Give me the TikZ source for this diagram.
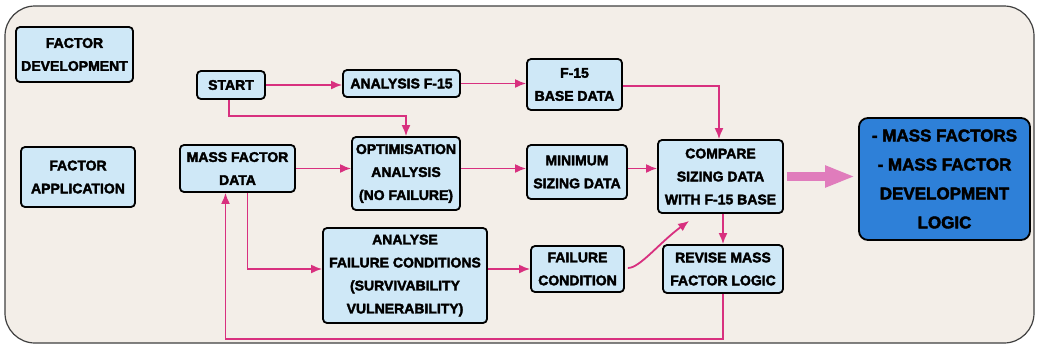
\documentclass[tikz,border=0pt]{standalone}
\usepackage{fontspec}
\setmainfont[BoldFeatures={FakeBold=2.5}]{Liberation Sans}
\usetikzlibrary{arrows.meta,calc}
\definecolor{bg}{HTML}{F3EEE8}
\definecolor{boxfill}{HTML}{CFE8F7}
\definecolor{pinkline}{HTML}{D8307F}
\definecolor{thickpink}{HTML}{E07CBC}
\definecolor{bluefill}{HTML}{2E80D8}
\begin{document}
\begin{tikzpicture}[x=1pt,y=-1pt,
  box/.style={draw=black,line width=1.8pt,fill=boxfill,rounded corners=4pt,inner sep=0pt,align=center,font=\fontsize{14}{23}\selectfont\bfseries},
  conn/.style={draw=pinkline,line width=1.8pt,-{Latex[length=11pt,width=9pt]}},
  bigarrow/.style={draw=thickpink,line width=9pt,-{Triangle[length=30pt,width=20pt]}}
]
\useasboundingbox (0,0) rectangle (1037,349);
\fill[white] (0,0) rectangle (1037,349);
\draw[fill=bg, draw=black!75, line width=1.2pt, rounded corners=30pt] (5,6) rectangle (1034,343);

\node[box, minimum width=117pt, minimum height=55pt] (fdev) at (74.5,54.5) {FACTOR\\DEVELOPMENT};
\node[box, minimum width=114pt, minimum height=60pt] (fapp) at (78,177) {FACTOR\\APPLICATION};
\node[box, minimum width=68pt, minimum height=28pt] (start) at (231,85) {START};
\node[box, minimum width=117pt, minimum height=27pt] (anal) at (401.5,83.5) {ANALYSIS F-15};
\node[box, minimum width=95pt, minimum height=51pt] (base) at (574.5,84.5) {F-15\\BASE DATA};
\node[box, minimum width=115pt, minimum height=47pt] (mass) at (237.5,168.5) {MASS FACTOR\\DATA};
\node[box, minimum width=108pt, minimum height=73pt] (opt) at (406,173.5) {OPTIMISATION\\ANALYSIS\\(NO FAILURE)};
\node[box, minimum width=100pt, minimum height=54pt] (min) at (577,172) {MINIMUM\\SIZING DATA};
\node[box, minimum width=125pt, minimum height=73pt] (comp) at (720.5,176.5) {COMPARE\\SIZING DATA\\WITH F-15 BASE};
\node[box, fill=bluefill, rounded corners=9pt, minimum width=171pt, minimum height=122pt, font=\fontsize{17}{29}\selectfont\bfseries] (blue) at (944.5,179) {- MASS FACTORS\\- MASS FACTOR\\DEVELOPMENT\\LOGIC};
\node[box, minimum width=164pt, minimum height=95pt] (fail) at (405,275.5) {ANALYSE\\FAILURE CONDITIONS\\(SURVIVABILITY\\VULNERABILITY)};
\node[box, minimum width=93pt, minimum height=46pt] (fcond) at (577.5,269) {FAILURE\\CONDITION};
\node[box, minimum width=120pt, minimum height=48pt] (revise) at (723,269) {REVISE MASS\\FACTOR LOGIC};

\draw[conn] (start.east) -- (start.east -| anal.west);
\draw[conn] (anal.east) -- (anal.east -| base.west);
\draw[conn] ($(start.south)+(-2,0)$) -- ++(0,16) -| (opt.north);
\draw[conn] ($(base.east)+(0,1.5)$) -| ($(comp.north)+(-1.5,0)$);
\draw[conn] (mass.east) -- (mass.east -| opt.west);
\draw[conn] (opt.east |- mass.east) -- (min.west |- mass.east);
\draw[conn] (min.east |- mass.east) -- (comp.west |- mass.east);
\draw[bigarrow] ($(comp.east)+(3,0)$) -- ($(blue.west |- comp.east)+(-3,0)$);
\draw[conn] ($(mass.south)+(10,0)$) |- (fail.west |- fcond.west);
\draw[conn] (fail.east |- fcond.west) -- (fcond.west);
\draw[conn] ($(fcond.east)+(3,-1)$) .. controls +(12,0) and +(-30,22) .. ($(comp.south west)+(32,7)$);
\draw[conn] (revise.north |- comp.south) -- (revise.north);
\draw[conn] (revise.south) -- ++(0,45) -| ($(mass.south)+(-12,0)$);
\end{tikzpicture}
\end{document}
